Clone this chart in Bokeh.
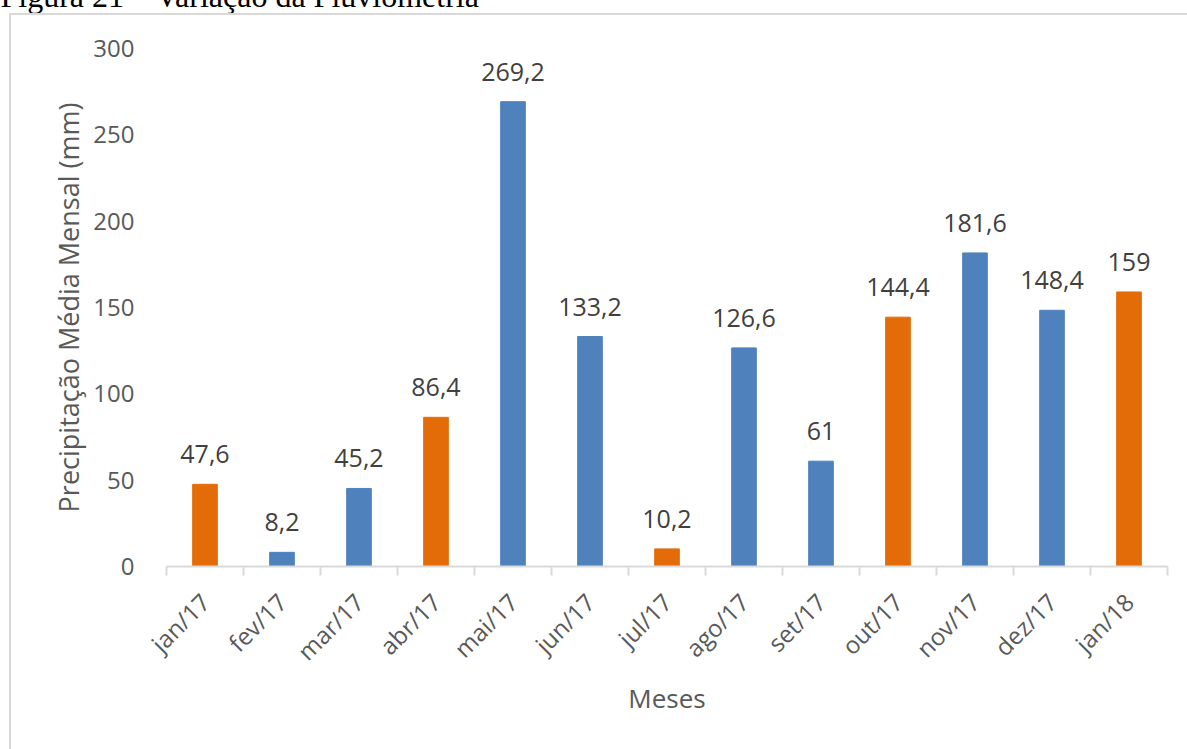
import math
from bokeh.plotting import figure
from bokeh.models import (FactorRange, Range1d, LinearAxis, CategoricalAxis, FixedTicker,
                          Label, LabelSet, ColumnDataSource, InlineStyleSheet)
from bokeh.core.properties import value
from bokeh.embed import file_html
from bokeh.resources import INLINE

# ---- data ----
months = ["jan/17", "fev/17", "mar/17", "abr/17", "mai/17", "jun/17", "jul/17",
          "ago/17", "set/17", "out/17", "nov/17", "dez/17", "jan/18"]
precip = [47.6, 8.2, 45.2, 86.4, 269.2, 133.2, 10.2, 126.6, 61, 144.4, 181.6, 148.4, 159]
highlight = [True, False, False, True, False, False, True, False, False, True, False, False, True]
y_ticks = [0, 50, 100, 150, 200, 250, 300]

caption = "Figura 21 – Variação da Pluviometria"
y_title = "Precipitação Média Mensal (mm)"
x_title = "Meses"

ORANGE = "#E36C09"
BLUE = "#4F81BD"
TXT = "#595959"
FONT = "Open Sans"

src = ColumnDataSource(dict(
    month=months,
    precip=precip,
    label=[f"{v:g}".replace(".", ",") for v in precip],
    color=[ORANGE if h else BLUE for h in highlight],
))

p = figure(x_range=FactorRange(factors=months, range_padding=0), y_range=Range1d(0, 300),
           width=1187, height=749, output_backend="svg", toolbar_location=None,
           x_axis_location=None, min_border_left=166, min_border_right=20,
           min_border_top=48, min_border_bottom=183)
p.outline_line_color = None
p.grid.grid_line_color = None
p.background_fill_color = "white"
p.border_fill_color = "white"

p.vbar(x="month", top="precip", width=0.32, source=src, fill_color="color", line_color="color")

p.add_layout(LabelSet(x="month", y="precip", text="label", source=src, y_offset=21,
                      text_align="center", text_baseline="alphabetic",
                      text_font=value(FONT), text_font_size="25px", text_color="#404040"))

# y axis
ya = p.yaxis[0]
ya.ticker = FixedTicker(ticks=y_ticks)
ya.axis_line_color = None
ya.major_tick_line_color = None
ya.minor_tick_line_color = None
ya.major_label_standoff = 26
ya.major_label_text_font = FONT
ya.major_label_text_font_size = "24px"
ya.major_label_text_color = TXT
ya.axis_label = y_title
ya.axis_label_text_font = FONT
ya.axis_label_text_font_size = "27px"
ya.axis_label_text_font_style = "normal"
ya.axis_label_text_color = TXT
ya.axis_label_standoff = 3

# x axis: boundary ticks
bounds = list(range(len(months) + 1))
tick_axis = LinearAxis(ticker=FixedTicker(ticks=bounds),
                       major_label_overrides={b: "" for b in bounds},
                       major_label_text_font_size="1px", major_label_standoff=0,
                       axis_line_color="#D9D9D9", axis_line_width=2,
                       major_tick_line_color="#D9D9D9", major_tick_line_width=2,
                       major_tick_out=9, major_tick_in=0, minor_tick_line_color=None)
p.add_layout(tick_axis, "below")

cat_axis = CategoricalAxis(major_label_orientation=math.pi / 4, axis_line_color=None,
                           major_tick_line_color=None, minor_tick_line_color=None,
                           major_label_text_font=FONT, major_label_text_font_size="24px",
                           major_label_text_color=TXT, major_label_standoff=16,
                           axis_label=x_title, axis_label_text_font=FONT,
                           axis_label_text_font_size="26px", axis_label_text_font_style="normal",
                           axis_label_text_color=TXT, axis_label_standoff=-2)
p.add_layout(cat_axis, "below")

# caption, partly above the page edge as in the reference
p.add_layout(Label(x=0, y=-5, x_units="canvas", y_units="canvas", text=caption,
                   text_font="Liberation Serif", text_font_size="32px",
                   text_color="black", text_baseline="alphabetic", text_align="left"), "above")

# light grey chart-area border (left and top edges visible)
p.stylesheets = [InlineStyleSheet(css=(
    ":host::after{content:'';position:absolute;left:9px;top:12.5px;right:0;bottom:0;"
    "border-left:2.5px solid #D9D9D9;border-top:2.5px solid #D9D9D9;"
    "pointer-events:none;box-sizing:border-box;}"))]

open("out.html", "w").write(file_html(p, INLINE))
